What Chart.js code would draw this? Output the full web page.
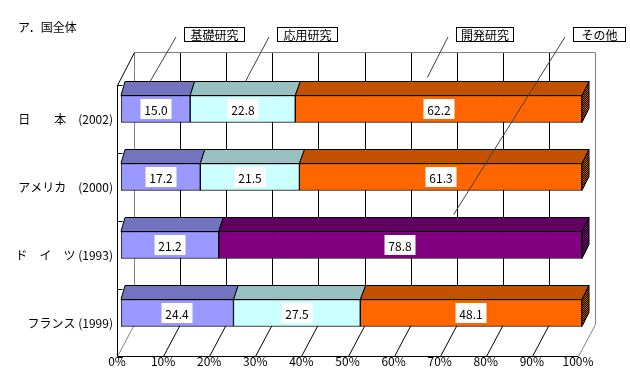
<!DOCTYPE html>
<html>
<head>
<meta charset="utf-8">
<script src="https://cdn.jsdelivr.net/npm/chart.js@4"></script>
<style>
  html, body { margin: 0; padding: 0; background: #fff; }
</style>
</head>
<body>
<canvas id="chart" width="630" height="370"></canvas>
<script>
// Data
const countries = ['日　　本　(2002)', 'アメリカ　(2000)', 'ド　イ　ツ (1993)', 'フランス (1999)'];
const seriesNames = ['基礎研究', '応用研究', '開発研究', 'その他'];
const basic = [15.0, 17.2, 21.2, 24.4];
const applied = [22.8, 21.5, null, 27.5];
const development = [62.2, 61.3, null, 48.1];
const other = [null, null, 78.8, null];
const xTicks = [0, 10, 20, 30, 40, 50, 60, 70, 80, 90, 100];

const FONT = '"Noto Sans CJK JP", "Noto Sans", sans-serif';

// front / top colours per series
const frontColors = ['#9999ff', '#ccffff', '#ff6600', '#800080'];
const topColors = ['#7373bf', '#99c0c0', '#c25200', '#600060'];

function checker(a, b) {
    const c = document.createElement('canvas');
    c.width = 2; c.height = 2;
    const g = c.getContext('2d');
    g.fillStyle = a; g.fillRect(0, 0, 2, 2);
    g.fillStyle = b; g.fillRect(0, 0, 1, 1); g.fillRect(1, 1, 1, 1);
    return c;
}

// callout boxes: layout position, leader ends on a bar's top face
const callouts = [
    { ds: 0, row: 0, box: [184, 27, 60, 14], f: 0.36, gap: 0 },
    { ds: 1, row: 0, box: [277, 27, 60, 14], f: 0.48, gap: 0 },
    { ds: 2, row: 0, box: [456, 27, 57, 14], f: 0.44, gap: 4 },
    { ds: 3, row: 2, box: [573, 27, 52, 14], f: 0.63, gap: 3 }
];

const DY = 14; // depth of bar top face

const box3d = {
    id: 'box3d',
    beforeDatasetsDraw(chart) {
        const { ctx, chartArea: a, scales: { x } } = chart;
        const frontY = a.bottom + 9.5, backY = a.bottom - 22.5, topY = a.top - 22.5;
        const fx = v => Math.round(x.getPixelForValue(v) - 4) + 0.5;
        const bx = v => Math.round(x.getPixelForValue(v) + 13) + 0.5;
        ctx.save();
        ctx.lineWidth = 1;

        // back wall gridlines
        xTicks.forEach(v => {
            ctx.strokeStyle = (v === 0 || v === 100) ? '#808080' : '#000';
            ctx.beginPath();
            ctx.moveTo(bx(v), topY);
            ctx.lineTo(bx(v), backY);
            ctx.stroke();
        });
        // back wall top edge
        ctx.strokeStyle = '#808080';
        ctx.beginPath();
        ctx.moveTo(bx(0), topY);
        ctx.lineTo(bx(100), topY);
        ctx.stroke();

        // floor lines
        xTicks.forEach(v => {
            ctx.strokeStyle = (v === 0 || v === 100) ? '#808080' : '#000';
            ctx.beginPath();
            ctx.moveTo(fx(v), frontY);
            ctx.lineTo(bx(v), backY);
            ctx.stroke();
        });
        ctx.strokeStyle = '#000';
        ctx.beginPath();
        ctx.moveTo(fx(0), frontY);
        ctx.lineTo(fx(100), frontY);
        ctx.stroke();

        // left wall
        const wallTop = a.top + 10.5;
        ctx.beginPath();
        ctx.moveTo(fx(0), frontY);
        ctx.lineTo(fx(0), wallTop);
        ctx.lineTo(bx(0), topY);
        ctx.stroke();
        // category ticks on the left wall
        const step = (a.bottom - a.top) / countries.length;
        for (let k = 0; k <= countries.length; k++) {
            const ty = Math.round(a.top + 10 + k * step) + 0.5;
            ctx.beginPath();
            ctx.moveTo(fx(0), ty);
            ctx.lineTo(fx(0) + 5, ty);
            ctx.stroke();
        }
        ctx.restore();
    },
    afterDatasetsDraw(chart) {
        const { ctx, chartArea: a } = chart;
        const depth = px => 4 + 3 * (px - a.left) / (a.right - a.left);
        const endFills = [null, null,
            ctx.createPattern(checker('#000000', '#c25200'), 'repeat'),
            ctx.createPattern(checker('#000000', '#800080'), 'repeat')];
        ctx.save();
        ctx.lineWidth = 1;
        ctx.strokeStyle = '#000';
        ctx.lineJoin = 'miter';

        countries.forEach((c, j) => {
            let last = null;
            chart.data.datasets.forEach((ds, i) => {
                if (ds.data[j] == null) return;
                const el = chart.getDatasetMeta(i).data[j];
                const top = el.y - el.height / 2;
                const x0 = el.base, x1 = el.x;
                ctx.fillStyle = topColors[i];
                ctx.beginPath();
                ctx.moveTo(x0, top);
                ctx.lineTo(x0 + depth(x0), top - DY);
                ctx.lineTo(x1 + depth(x1), top - DY);
                ctx.lineTo(x1, top);
                ctx.closePath();
                ctx.fill();
                ctx.stroke();
                last = i;
            });
            if (last !== null) {
                const el = chart.getDatasetMeta(last).data[j];
                const top = el.y - el.height / 2, bot = el.y + el.height / 2;
                const d = depth(el.x);
                ctx.fillStyle = endFills[last] || topColors[last];
                ctx.beginPath();
                ctx.moveTo(el.x, top);
                ctx.lineTo(el.x + d, top - DY);
                ctx.lineTo(el.x + d, bot - DY);
                ctx.lineTo(el.x, bot);
                ctx.closePath();
                ctx.fill();
                ctx.stroke();
            }
        });

        // value labels
        ctx.font = '12px ' + FONT;
        ctx.textAlign = 'center';
        ctx.textBaseline = 'middle';
        chart.data.datasets.forEach((ds, i) => {
            chart.getDatasetMeta(i).data.forEach((el, j) => {
                const v = ds.data[j];
                if (v == null) return;
                const txt = v.toFixed(1);
                const w = Math.round(ctx.measureText(txt).width) + 8;
                const cx = Math.round((el.x + el.base) / 2), cy = Math.round(el.y);
                ctx.fillStyle = '#fff';
                ctx.fillRect(cx - w / 2, cy - 10, w, 20);
                ctx.fillStyle = '#000';
                ctx.fillText(txt, cx, cy + 1);
            });
        });

        // callouts
        callouts.forEach(co => {
            const el = chart.getDatasetMeta(co.ds).data[co.row];
            const top = el.y - el.height / 2;
            const px = el.base + co.f * (el.x - el.base);
            const ex = px + depth(px), ey = top - DY - co.gap;
            const [bxl, byt, bw, bh] = co.box;
            ctx.strokeStyle = '#404040';
            ctx.beginPath();
            ctx.moveTo(bxl - 8, byt + bh - 4);
            ctx.lineTo(ex, ey);
            ctx.stroke();
            ctx.fillStyle = '#fff';
            ctx.strokeStyle = '#000';
            ctx.fillRect(bxl, byt, bw, bh);
            ctx.strokeRect(bxl + 0.5, byt + 0.5, bw, bh);
            ctx.fillStyle = '#000';
            ctx.fillText(seriesNames[co.ds], bxl + bw / 2 + 0.5, byt + bh / 2 + 1);
        });

        // title
        ctx.textAlign = 'left';
        ctx.fillText('ア．国全体', 18, 27);
        ctx.restore();
    }
};

const series = [basic, applied, development, other];

const ctx = document.getElementById('chart').getContext('2d');
new Chart(ctx, {
    type: 'bar',
    data: {
        labels: countries,
        datasets: series.map((d, i) => ({
            label: seriesNames[i],
            data: d,
            backgroundColor: frontColors[i],
            borderColor: '#000',
            borderWidth: 1,
            borderSkipped: false,
            barThickness: 27
        }))
    },
    options: {
        indexAxis: 'y',
        responsive: false,
        animation: false,
        devicePixelRatio: 1,
        layout: { padding: { top: 75, right: 48, left: 0, bottom: 0 } },
        plugins: { legend: { display: false }, tooltip: { enabled: false } },
        scales: {
            x: {
                stacked: true,
                min: 0,
                max: 100,
                afterBuildTicks: axis => { axis.ticks = xTicks.map(v => ({ value: v })); },
                ticks: {
                    callback: v => v + '%',
                    labelOffset: -4,
                    padding: 7,
                    autoSkip: false,
                    maxRotation: 0,
                    color: '#000',
                    font: { family: FONT, size: 12 }
                },
                grid: { display: false, drawTicks: false },
                border: { display: false },
                afterFit: axis => { axis.height = 23; }
            },
            y: {
                stacked: true,
                ticks: {
                    labelOffset: 10,
                    padding: 8,
                    color: '#000',
                    font: { family: FONT, size: 12 }
                },
                grid: { display: false, drawTicks: false },
                border: { display: false },
                afterFit: axis => { axis.width = 121; }
            }
        }
    },
    plugins: [box3d]
});
</script>
</body>
</html>
